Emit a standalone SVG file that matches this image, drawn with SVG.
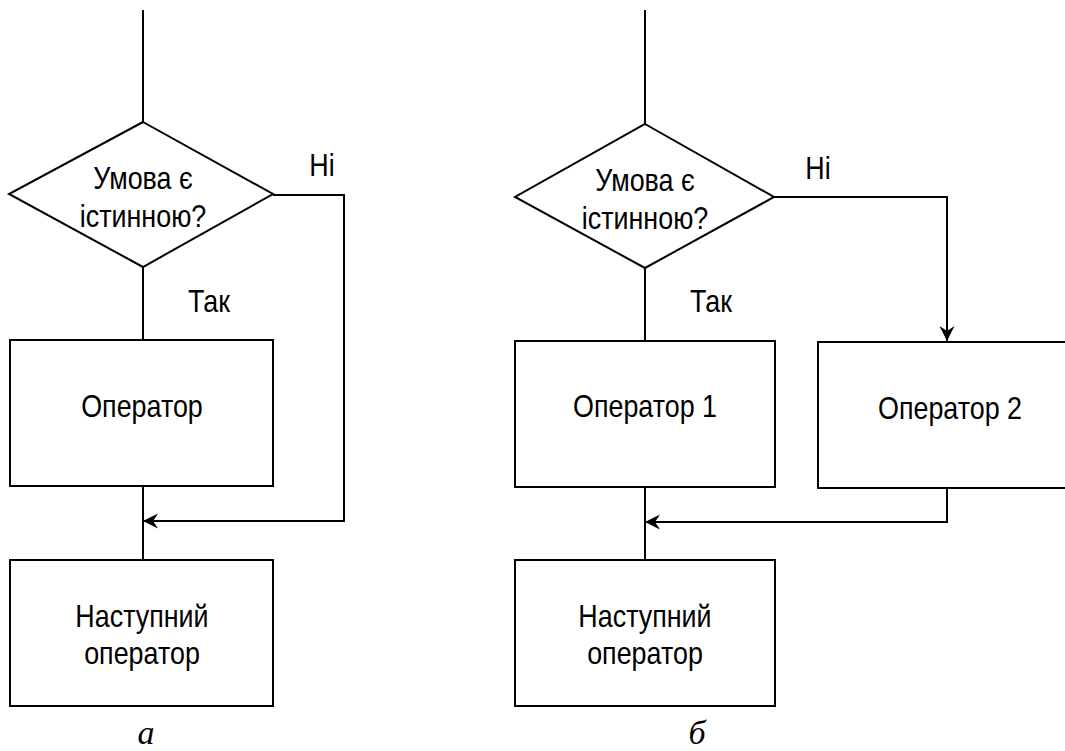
<svg xmlns="http://www.w3.org/2000/svg" width="1065" height="751" viewBox="0 0 1065 751">
  <style>
    .shape { fill: #ffffff; stroke: #000000; stroke-width: 2; }
    .wire { fill: none; stroke: #000000; stroke-width: 2; }
    .lbl { font-family: "Liberation Sans", Arial, sans-serif; font-size: 32px; fill: #000000; text-anchor: middle; }
    .cap { font-family: "Liberation Serif", "Times New Roman", serif; font-style: italic; font-size: 34px; fill: #000000; text-anchor: middle; }
  </style>
  <defs>
    <marker id="arrow" markerUnits="userSpaceOnUse" markerWidth="20" markerHeight="20" refX="0" refY="0" viewBox="-16 -10 20 20" orient="auto">
      <path d="M0,0 L-15,-7.5 L-10,0 L-15,7.5 Z" fill="#000000"/>
    </marker>
  </defs>
  <rect width="1065" height="751" fill="#ffffff"/>

  <!-- connectors -->
  <g id="connectors">
    <!-- scheme a -->
    <path class="wire" d="M143,10 V122"/>
    <path class="wire" d="M143,267 V340"/>
    <path class="wire" d="M273,195 H344 V521 H143" marker-end="url(#arrow)"/>
    <path class="wire" d="M143,486 V560"/>
    <!-- scheme b -->
    <path class="wire" d="M645,10 V124"/>
    <path class="wire" d="M645,268 V341"/>
    <path class="wire" d="M774,197 H947 V341" marker-end="url(#arrow)"/>
    <path class="wire" d="M947,488 V522 H645" marker-end="url(#arrow)"/>
    <path class="wire" d="M645,487 V560"/>
  </g>

  <!-- scheme a nodes -->
  <g id="a-cond">
    <polygon class="shape" points="143,122 273,194 143,267 9,194"/>
    <text class="lbl" transform="translate(143 189) scale(0.84 1)">Умова є</text>
    <text class="lbl" transform="translate(143 227) scale(0.84 1)">істинною?</text>
  </g>
  <g id="a-no-label">
    <text class="lbl" transform="translate(322 176) scale(0.84 1)">Ні</text>
  </g>
  <g id="a-yes-label">
    <text class="lbl" transform="translate(209 312) scale(0.84 1)">Так</text>
  </g>
  <g id="a-operator">
    <rect class="shape" x="10" y="340" width="263" height="146"/>
    <text class="lbl" transform="translate(142 417) scale(0.84 1)">Оператор</text>
  </g>
  <g id="a-next">
    <rect class="shape" x="10" y="560" width="263" height="146"/>
    <text class="lbl" transform="translate(142 627) scale(0.84 1)">Наступний</text>
    <text class="lbl" transform="translate(142 664) scale(0.84 1)">оператор</text>
  </g>
  <g id="a-caption">
    <text class="cap" x="146" y="744">а</text>
  </g>

  <!-- scheme b nodes -->
  <g id="b-cond">
    <polygon class="shape" points="645,124 774,197 645,268 515,197"/>
    <text class="lbl" transform="translate(645 191) scale(0.84 1)">Умова є</text>
    <text class="lbl" transform="translate(645 229) scale(0.84 1)">істинною?</text>
  </g>
  <g id="b-no-label">
    <text class="lbl" transform="translate(818 179) scale(0.84 1)">Ні</text>
  </g>
  <g id="b-yes-label">
    <text class="lbl" transform="translate(711 312) scale(0.84 1)">Так</text>
  </g>
  <g id="b-operator1">
    <rect class="shape" x="515" y="341" width="260" height="146"/>
    <text class="lbl" transform="translate(645 417) scale(0.84 1)">Оператор 1</text>
  </g>
  <g id="b-operator2">
    <rect class="shape" x="818" y="342" width="260" height="146"/>
    <text class="lbl" transform="translate(950 419) scale(0.84 1)">Оператор 2</text>
  </g>
  <g id="b-next">
    <rect class="shape" x="515" y="560" width="260" height="146"/>
    <text class="lbl" transform="translate(645 627) scale(0.84 1)">Наступний</text>
    <text class="lbl" transform="translate(645 664) scale(0.84 1)">оператор</text>
  </g>
  <g id="b-caption">
    <text class="cap" x="697" y="744">б</text>
  </g>
</svg>
